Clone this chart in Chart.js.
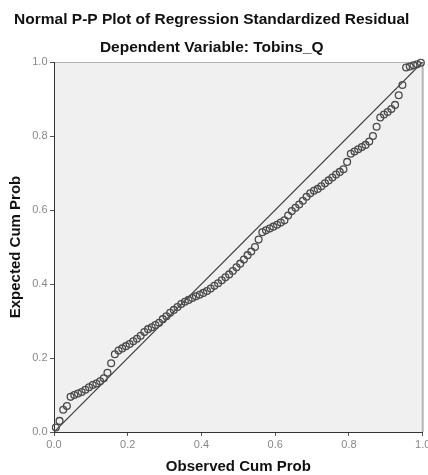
<!DOCTYPE html>
<html>
<head>
<meta charset="utf-8">
<script src="https://cdn.jsdelivr.net/npm/chart.js@4"></script>
<style>
  html, body { margin: 0; padding: 0; background: #fff; }
  #wrap { width: 428px; height: 475px; position: relative; }
</style>
</head>
<body>
<div id="wrap"><canvas id="ppChart"></canvas></div>
<script>
// observed cumulative probability (x) and expected cumulative probability (y)
var observedCum = [
  0.005, 0.015, 0.025, 0.035, 0.045, 0.055, 0.065, 0.075, 0.085, 0.095,
  0.105, 0.115, 0.125, 0.135, 0.145, 0.155, 0.165, 0.175, 0.185, 0.195,
  0.205, 0.215, 0.225, 0.235, 0.245, 0.255, 0.265, 0.275, 0.285, 0.295,
  0.305, 0.315, 0.325, 0.335, 0.345, 0.355, 0.365, 0.375, 0.385, 0.395,
  0.405, 0.415, 0.425, 0.435, 0.445, 0.455, 0.465, 0.475, 0.485, 0.495,
  0.505, 0.515, 0.525, 0.535, 0.545, 0.555, 0.565, 0.575, 0.585, 0.595,
  0.605, 0.615, 0.625, 0.635, 0.645, 0.655, 0.665, 0.675, 0.685, 0.695,
  0.705, 0.715, 0.725, 0.735, 0.745, 0.755, 0.765, 0.775, 0.785, 0.795,
  0.805, 0.815, 0.825, 0.835, 0.845, 0.855, 0.865, 0.875, 0.885, 0.895,
  0.905, 0.915, 0.925, 0.935, 0.945, 0.955, 0.965, 0.975, 0.985, 0.995
];
var expectedCum = [
  0.012, 0.030, 0.060, 0.070, 0.095, 0.100, 0.104, 0.108, 0.114, 0.121,
  0.127, 0.131, 0.137, 0.145, 0.160, 0.186, 0.210, 0.220, 0.226, 0.232,
  0.238, 0.245, 0.252, 0.260, 0.270, 0.278, 0.283, 0.289, 0.295, 0.305,
  0.313, 0.322, 0.330, 0.338, 0.346, 0.352, 0.357, 0.362, 0.367, 0.371,
  0.376, 0.381, 0.388, 0.395, 0.402, 0.410, 0.418, 0.426, 0.435, 0.445,
  0.455, 0.466, 0.478, 0.488, 0.500, 0.520, 0.540, 0.545, 0.550, 0.555,
  0.560, 0.566, 0.572, 0.585, 0.597, 0.606, 0.615, 0.625, 0.636, 0.645,
  0.652, 0.657, 0.664, 0.672, 0.680, 0.688, 0.696, 0.703, 0.710, 0.730,
  0.752, 0.758, 0.764, 0.770, 0.776, 0.785, 0.800, 0.825, 0.850, 0.858,
  0.865, 0.873, 0.884, 0.910, 0.938, 0.985, 0.988, 0.991, 0.994, 0.998
];
var diagonalX = [0, 1];
var diagonalY = [0, 1];
var tickValues = [0, 0.2, 0.4, 0.6, 0.8, 1.0];

var fontFamily = "'Liberation Sans', Arial, sans-serif";

var points = observedCum.map(function (x, i) { return { x: x, y: expectedCum[i] }; });
var diagonal = diagonalX.map(function (x, i) { return { x: x, y: diagonalY[i] }; });

// grey plot background plus the light top / right frame
var plotFrame = {
  id: 'plotFrame',
  beforeDraw: function (chart) {
    var a = chart.chartArea, ctx = chart.ctx;
    ctx.save();
    ctx.fillStyle = '#f0f0f0';
    ctx.fillRect(a.left, a.top, a.right - a.left, a.bottom - a.top);
    ctx.strokeStyle = '#b4b4b4';
    ctx.lineWidth = 1;
    ctx.beginPath();
    ctx.moveTo(a.left, a.top + 0.5);
    ctx.lineTo(a.right, a.top + 0.5);
    ctx.stroke();
    ctx.lineWidth = 2;
    ctx.beginPath();
    ctx.moveTo(a.right, a.top);
    ctx.lineTo(a.right, a.bottom);
    ctx.stroke();
    ctx.restore();
  }
};

function setTicks(scale) {
  scale.ticks = tickValues.map(function (v) { return { value: v }; });
}

var ctx = document.getElementById('ppChart').getContext('2d');
var ppChart = new Chart(ctx, {
  type: 'scatter',
  data: {
    datasets: [{
      label: 'residuals',
      data: points,
      pointRadius: 3.4,
      pointBorderWidth: 1.3,
      pointBorderColor: '#4a4a4a',
      pointBackgroundColor: 'rgba(0,0,0,0)',
      clip: false,
      order: 1
    }, {
      type: 'line',
      label: 'diagonal',
      data: diagonal,
      borderColor: '#3a3a3a',
      borderWidth: 1.2,
      pointRadius: 0,
      fill: false,
      order: 2
    }]
  },
  options: {
    responsive: true,
    maintainAspectRatio: false,
    animation: false,
    layout: { padding: { left: 0, right: 4.5, top: 0, bottom: 0 } },
    plugins: {
      legend: { display: false },
      tooltip: { enabled: false },
      title: {
        display: true,
        text: 'Normal P-P Plot of Regression Standardized Residual',
        color: '#111',
        font: { family: fontFamily, size: 15.5, weight: 'bold', lineHeight: 1.2 },
        padding: { top: 10.2, bottom: 9.2 }
      },
      subtitle: {
        display: true,
        text: 'Dependent Variable: Tobins_Q',
        color: '#111',
        font: { family: fontFamily, size: 15.5, weight: 'bold', lineHeight: 1.2 },
        padding: { top: 0, bottom: 5.4 }
      }
    },
    scales: {
      x: {
        type: 'linear',
        min: 0,
        max: 1,
        afterBuildTicks: setTicks,
        afterFit: function (scale) {
          scale.height = 43;
          scale.paddingLeft = 0;
          scale.paddingRight = 0;
        },
        ticks: {
          color: '#888',
          font: { family: fontFamily, size: 11 },
          padding: 2,
          maxRotation: 0,
          callback: function (v) { return v.toFixed(1); }
        },
        grid: { drawOnChartArea: false, drawTicks: true, tickLength: 4, tickColor: '#555' },
        border: { display: true, color: '#333', width: 1 },
        title: {
          display: true,
          text: 'Observed Cum Prob',
          color: '#111',
          font: { family: fontFamily, size: 15, weight: 'bold', lineHeight: 1 },
          padding: { top: 0, bottom: 0.5 }
        }
      },
      y: {
        type: 'linear',
        min: 0,
        max: 1,
        afterBuildTicks: setTicks,
        afterFit: function (scale) {
          scale.width = 54;
        },
        ticks: {
          color: '#888',
          font: { family: fontFamily, size: 11 },
          padding: 2.5,
          callback: function (v) { return v.toFixed(1); }
        },
        grid: { drawOnChartArea: false, drawTicks: true, tickLength: 4, tickColor: '#555' },
        border: { display: true, color: '#333', width: 1 },
        title: {
          display: true,
          text: 'Expected Cum Prob',
          color: '#111',
          font: { family: fontFamily, size: 15, weight: 'bold', lineHeight: 1 },
          padding: { top: 8.5, bottom: 0 }
        }
      }
    }
  },
  plugins: [plotFrame]
});
</script>
</body>
</html>
